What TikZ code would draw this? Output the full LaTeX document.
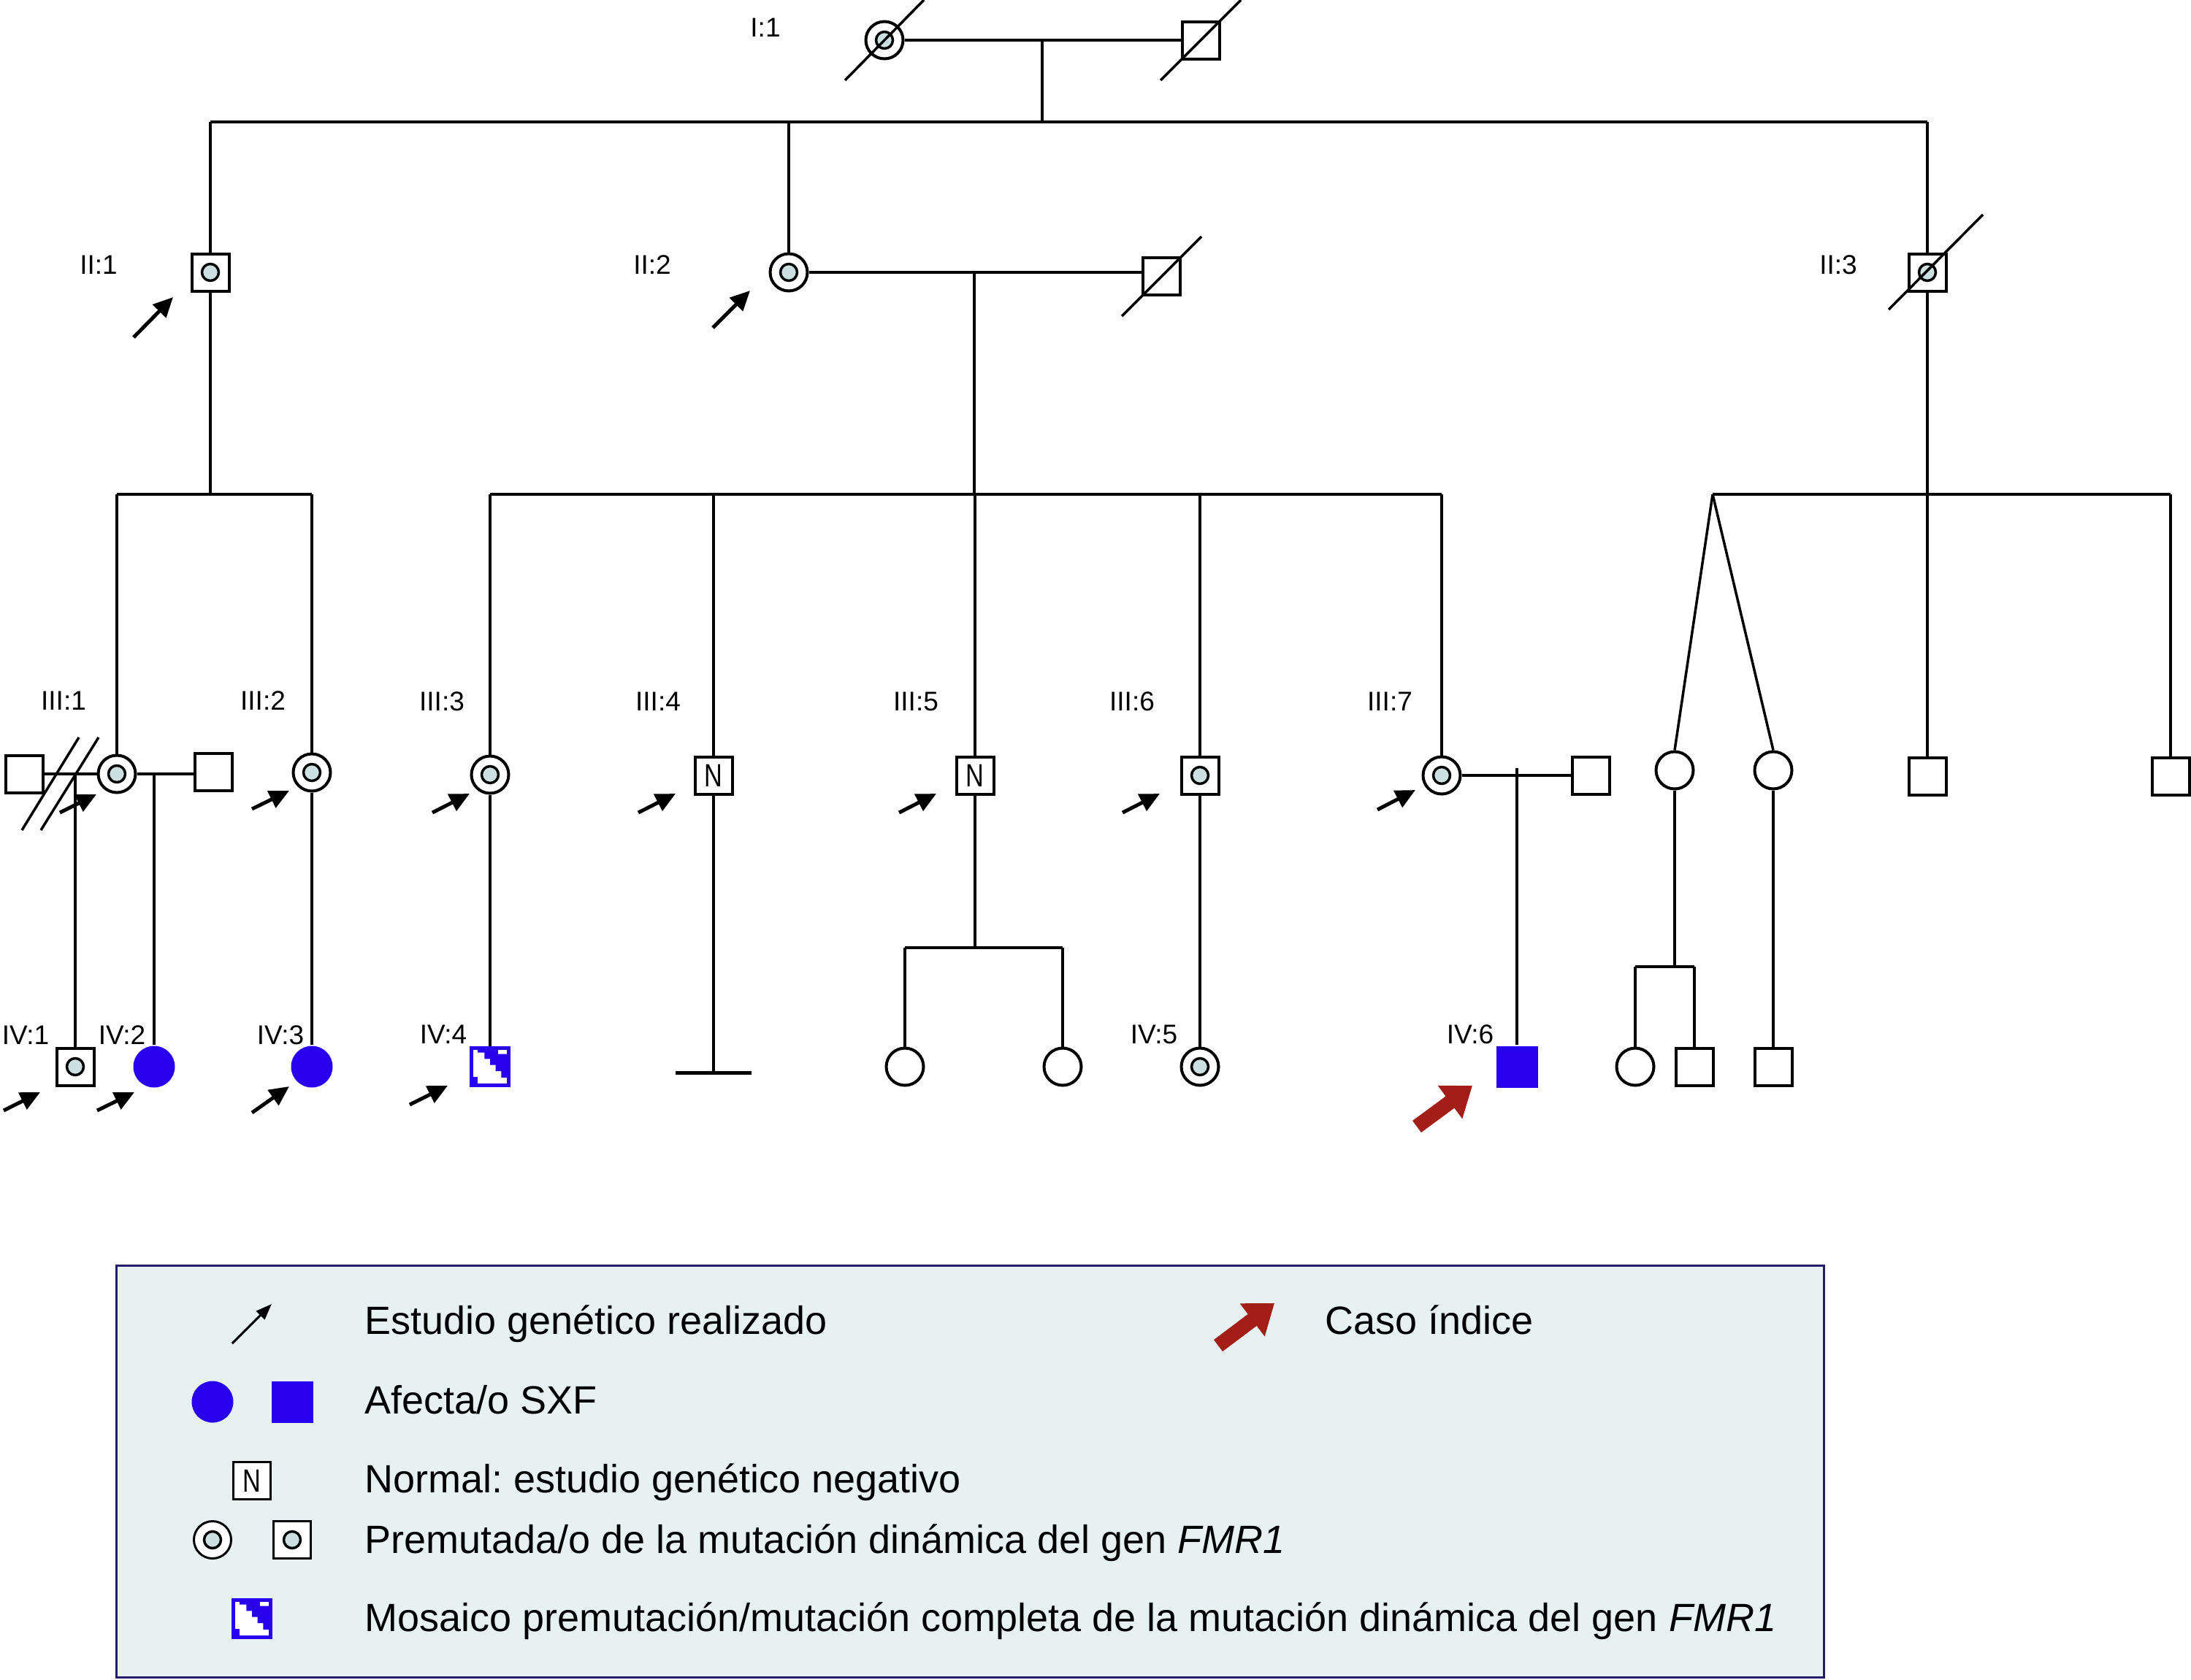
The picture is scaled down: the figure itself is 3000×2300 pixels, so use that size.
\documentclass[tikz,border=0pt]{standalone}
\usepackage{fontspec}
\setmainfont{Liberation Sans}
\usetikzlibrary{arrows.meta,calc}
\definecolor{affblue}{RGB}{40,0,238}
\definecolor{dotc}{RGB}{204,224,226}
\definecolor{legbg}{RGB}{231,241,242}
\definecolor{legbd}{RGB}{35,30,105}
\definecolor{idxred}{RGB}{163,30,22}
\newcommand\NN{\scalebox{0.78}[1]{N}}
\newcommand\mosaicpat[1]{%
  \begin{scope}[shift={(#1.north west)}, scale=51]
    \fill[affblue] (0.22,0) -- (0.76,0) -- (0.76,0.21) -- (1,0.21) -- (1,0.84) -- (0.85,0.84) -- (0.85,0.67) -- (0.7,0.67) -- (0.7,0.5) -- (0.55,0.5) -- (0.55,0.34) -- (0.4,0.34) -- (0.4,0.17) -- (0.22,0.17) -- cycle;
    \fill[affblue] (0,0.82) rectangle (0.22,1);
  \end{scope}}
\frenchspacing
\begin{document}
\begin{tikzpicture}[x=1pt,y=-1pt,
  ln/.style={line width=3.5pt},
  fem/.style={circle, draw, line width=4pt, minimum size=51pt, inner sep=0pt, fill=white},
  mal/.style={rectangle, draw, line width=4pt, minimum size=51pt, inner sep=0pt, fill=white, font=\fontsize{44}{46}\selectfont},
  carrier/.style={path picture={\draw[line width=3.5pt, fill=dotc] (path picture bounding box.center) circle (11.5pt);}},
  aff/.style={draw=none, fill=affblue, minimum size=57pt},
  mosaic/.style={draw=affblue, line width=5pt, fill=white},
  lab/.style={font=\fontsize{37}{40}\selectfont, inner sep=0pt},
  legt/.style={font=\fontsize{54}{60}\selectfont, inner sep=0pt, anchor=base west},
  sarrow/.style={line width=5pt, -{Triangle[length=27pt,width=25pt]}},
  redarrow/.style={idxred, line width=20pt, -{Triangle[length=38pt,width=54pt]}}
]
\useasboundingbox (0,0) rectangle (3000,2300);

% ---------- Generation I ----------
\node[fem, carrier] (i1f) at (1211,55) {};
\node[mal] (i1m) at (1644,55) {};
\node[lab] (l-i1) at (1048,38) {I:1};
\draw[ln] (i1f.east) -- (i1m.west);
\coordinate (c1) at (1427,55);
\coordinate (s1) at (1427,167);
\draw[ln] (c1) -- (s1);
\draw[ln] ($(i1f)+(-54,55)$) -- ($(i1f)+(54,-55)$);
\draw[ln] ($(i1m)+(-55,55)$) -- ($(i1m)+(55,-55)$);

% ---------- Generation II ----------
\node[mal, carrier] (ii1) at (288,373) {};
\node[fem, carrier] (ii2f) at (1080,373) {};
\node[mal] (ii2m) at (1590,378) {};
\node[mal, carrier] (ii3) at (2639,373) {};
\node[lab] (l-ii1) at (135,363) {II:1};
\node[lab] (l-ii2) at (893,363) {II:2};
\node[lab] (l-ii3) at (2517,363) {II:3};
\draw[ln] (ii1 |- s1) -- (ii3 |- s1);
\draw[ln] (ii1 |- s1) -- (ii1.north);
\draw[ln] (ii2f |- s1) -- (ii2f.north);
\draw[ln] (ii3 |- s1) -- (ii3.north);
\draw[ln] (ii2f.east) -- (ii2f.east -| ii2m.west);
\draw[ln] ($(ii2m)+(-54,55)$) -- ($(ii2m)+(55,-54)$);
\draw[ln] ($(ii3)+(-53,51)$) -- ($(ii3)+(76,-79)$);
\coordinate (m2) at (1334,373);
\coordinate (s3a) at (288,677);
\coordinate (s3b) at (1334,677);
\draw[ln] (m2) -- (s3b);
\draw[ln] (ii1.south) -- (s3a);

% ---------- Generation III ----------
\node[mal] (iii1a) at (33,1060) {};
\node[fem, carrier] (iii1) at (160,1060) {};
\node[mal] (iii1b) at (292,1057) {};
\node[fem, carrier] (iii2) at (427,1058) {};
\node[fem, carrier] (iii3) at (671,1061) {};
\node[mal] (iii4) at (977,1062) {\NN};
\node[mal] (iii5) at (1335,1062) {\NN};
\node[mal, carrier] (iii6) at (1643,1062) {};
\node[fem, carrier] (iii7) at (1974,1062) {};
\node[mal] (iii7p) at (2178,1062) {};
\node[fem] (tw1) at (2293,1055) {};
\node[fem] (tw2) at (2428,1055) {};
\node[mal] (iii9) at (2639,1063) {};
\node[mal] (iii10) at (2972,1063) {};
\node[lab] (l-iii1) at (87,960) {III:1};
\node[lab] (l-iii2) at (360,960) {III:2};
\node[lab] (l-iii3) at (605,961) {III:3};
\node[lab] (l-iii4) at (901,961) {III:4};
\node[lab] (l-iii5) at (1254,961) {III:5};
\node[lab] (l-iii6) at (1550,961) {III:6};
\node[lab] (l-iii7) at (1903,961) {III:7};

\draw[ln] (iii1 |- s3a) -- (iii2 |- s3a);
\draw[ln] (iii1 |- s3a) -- (iii1.north);
\draw[ln] (iii2 |- s3a) -- (iii2.north);
\draw[ln] (iii3 |- s3b) -- (iii7 |- s3b);
\foreach \n in {iii3,iii4,iii5,iii6,iii7} \draw[ln] (\n |- s3b) -- (\n.north);

% III:1 unions
\draw[ln] (iii1a.east) -- (iii1a.east -| iii1.west);
\draw[ln] (iii1.east) -- (iii1.east -| iii1b.west);
\draw[ln] (30,1137) -- (108,1010);
\draw[ln] (56,1137) -- (135,1010);
\coordinate (m31) at (103,1060);
\coordinate (m32) at (211,1060);

% III:7 union
\draw[ln] (iii7.east) -- (iii7.east -| iii7p.west);
\coordinate (m7) at (2077,1052);

% right branch
\coordinate (tw) at (2345,677);
\draw[ln] (ii3.south) -- (iii9.north);
\draw[ln] (tw) -- (iii10 |- tw);
\draw[ln] (iii10 |- tw) -- (iii10.north);
\draw[ln] (tw) -- (tw1.north);
\draw[ln] (tw) -- (tw2.north);

% ---------- Generation IV ----------
\node[mal, carrier] (iv1) at (103,1461) {};
\node[fem, aff] (iv2) at (211,1461) {};
\node[fem, aff] (iv3) at (427,1461) {};
\node[mal, mosaic] (iv4) at (671,1461) {};
\mosaicpat{iv4}
\node[fem] (iv5a) at (1239,1461) {};
\node[fem] (iv5b) at (1455,1461) {};
\node[fem, carrier] (iv5) at (1643,1461) {};
\node[mal, aff] (iv6) at (2077,1461) {};
\node[fem] (iv7) at (2239,1461) {};
\node[mal] (iv8) at (2320,1461) {};
\node[mal] (iv9) at (2428,1461) {};
\node[lab] (l-iv1) at (35,1418) {IV:1};
\node[lab] (l-iv2) at (167,1418) {IV:2};
\node[lab] (l-iv3) at (384,1418) {IV:3};
\node[lab] (l-iv4) at (607,1417) {IV:4};
\node[lab] (l-iv5) at (1580,1417) {IV:5};
\node[lab] (l-iv6) at (2013,1417) {IV:6};

\draw[ln] (m31) -- (iv1.north);
\draw[ln] (m32) -- (iv2.north);
\draw[ln] (iii2.south) -- (iv3.north);
\draw[ln] (iii3.south) -- (iv4.north);
\coordinate (b4) at (977,1469);
\draw[ln] (iii4.south) -- (b4);
\draw[line width=5pt] ($(b4)+(-52,0)$) -- ($(b4)+(52,0)$);
\coordinate (s4c) at (1335,1298);
\draw[ln] (iii5.south) -- (s4c);
\draw[ln] (iv5a |- s4c) -- (iv5b |- s4c);
\draw[ln] (iv5a |- s4c) -- (iv5a.north);
\draw[ln] (iv5b |- s4c) -- (iv5b.north);
\draw[ln] (iii6.south) -- (iv5.north);
\draw[ln] (m7) -- (iv6.north);
\coordinate (s4t) at (2293,1324);
\draw[ln] (tw1.south) -- (s4t);
\draw[ln] (iv7 |- s4t) -- (iv8 |- s4t);
\draw[ln] (iv7 |- s4t) -- (iv7.north);
\draw[ln] (iv8 |- s4t) -- (iv8.north);
\draw[ln] (tw2.south) -- (iv9.north);

% ---------- pointer arrows ----------
\draw[sarrow] (183,462) -- (237,407);
\draw[sarrow] (976,449) -- (1027,398);
\draw[sarrow] (82,1113) -- (132,1088);
\draw[sarrow] (345,1108) -- (396,1083);
\draw[sarrow] (592,1113) -- (643,1087);
\draw[sarrow] (874,1113) -- (925,1087);
\draw[sarrow] (1231,1113) -- (1282,1087);
\draw[sarrow] (1537,1113) -- (1588,1087);
\draw[sarrow] (1886,1109) -- (1938,1082);
\draw[sarrow] (5,1521) -- (55,1496);
\draw[sarrow] (133,1521) -- (184,1496);
\draw[sarrow] (345,1524) -- (396,1488);
\draw[sarrow] (561,1513) -- (613,1487);
\draw[redarrow] (1940,1543) -- (2016,1487);

% ---------- Legend ----------
\node[draw=legbd, line width=3pt, fill=legbg, minimum width=2338pt, minimum height=564pt, anchor=north west, inner sep=0pt] (leg) at (157.5,1731.5) {};
\draw[line width=3pt, -{Triangle[length=22pt,width=16pt]}] (318,1840) -- (372,1786);
\node[legt] (t1) at (499,1827) {Estudio genético realizado};
\draw[redarrow] (1668,1843) -- (1745,1785);
\node[legt] (t6) at (1814,1827) {Caso índice};
\node[fem, aff] (lgA) at (291,1920) {};
\node[mal, aff] (lgB) at (400,1920) {};
\node[legt] (t2) at (499,1936) {Afecta/o SXF};
\node[mal, line width=3pt] (lgN) at (345,2028) {\NN};
\node[legt] (t3) at (499,2044) {Normal: estudio genético negativo};
\node[fem, carrier, line width=3pt] (lgC) at (291,2109) {};
\node[mal, carrier, line width=3pt] (lgD) at (400,2109) {};
\node[legt] (t4) at (499,2127) {Premutada/o de la mutación dinámica del gen \textit{FMR1}};
\node[mal, mosaic] (lgM) at (345,2217) {};
\mosaicpat{lgM}
\node[legt] (t5) at (499,2234) {Mosaico premutación/mutación completa de la mutación dinámica del gen \textit{FMR1}};
\end{tikzpicture}
\end{document}
